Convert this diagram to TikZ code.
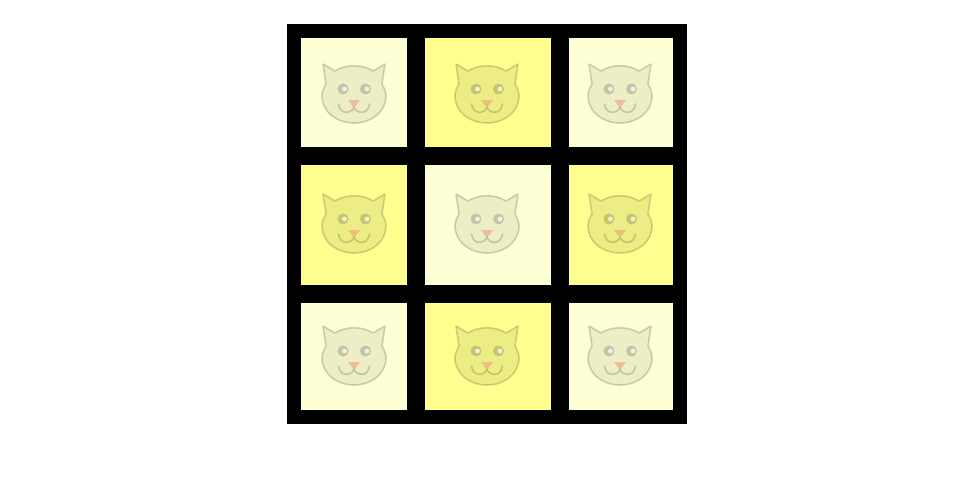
\documentclass[tikz,border=0pt]{standalone}
\usepackage{xcolor}
\definecolor{paleyellow}{HTML}{FFFFD6}
\definecolor{brightyellow}{HTML}{FFFF90}
\definecolor{catnose}{HTML}{F09070}
\begin{document}
\begin{tikzpicture}[
  x=1pt, y=-1pt,
  frame/.style={fill=black, inner sep=0pt, minimum size=400pt},
  cell/.style={inner sep=0pt, minimum width=#1pt},
  pale/.style={fill=paleyellow},
  bright/.style={fill=brightyellow},
  catline/.style={draw=black, line width=1.6pt, line join=round, opacity=0.17},
  cat/.pic={
    \fill[black, opacity=0.07] (-31,-30) -- (-19,-23) .. controls (-8,-30) and (8,-30) .. (19,-23) -- (31,-30)
      -- (28,-10) .. controls (31,-5) and (32,-1) .. (32,2) .. controls (32,18) and (17,29) .. (0,29)
      .. controls (-17,29) and (-32,18) .. (-32,2) .. controls (-32,-1) and (-31,-5) .. (-28,-10) -- cycle;
    \draw[catline] (-31,-30) -- (-19,-23) .. controls (-8,-30) and (8,-30) .. (19,-23) -- (31,-30)
      -- (28,-10) .. controls (31,-5) and (32,-1) .. (32,2) .. controls (32,18) and (17,29) .. (0,29)
      .. controls (-17,29) and (-32,18) .. (-32,2) .. controls (-32,-1) and (-31,-5) .. (-28,-10) -- cycle;
    \fill[black, opacity=0.17] (-11,-5) circle (5.5) (11.5,-5) circle (5.5);
    \fill[white, opacity=0.75] (-9.5,-5) circle (2.4) (13,-5) circle (2.4);
    \fill[catnose, opacity=0.5] (-6,6) -- (6,6) -- (0,14) -- cycle;
    \draw[catline, line cap=round] (-15.5,10) .. controls (-14,21) and (-3,20) .. (0,13.5) .. controls (3,20) and (14,21) .. (15.5,10);
  }
]
\useasboundingbox (0,0) rectangle (960,500);
\node[frame] (board) at (487,224) {};
% col/row centre, width, height, colour
\foreach \cx/\cy/\cw/\ch/\tone/\idx in {
  354/92.5/106/109/pale/1, 488/92.5/126/109/bright/2, 621/92.5/104/109/pale/3,
  354/225/106/120/bright/4, 488/225/126/120/pale/5, 621/225/104/120/bright/6,
  354/356.5/106/107/pale/7, 488/356.5/126/107/bright/8, 621/356.5/104/107/pale/9}
  \node[cell=\cw, minimum height=\ch pt, \tone] (tile\idx) at (\cx,\cy) {};
\foreach \cx/\cy in {354/94, 487/94, 620/94, 354/224, 487/224, 620/224, 354/356, 487/356, 620/356}
  \pic at (\cx,\cy) {cat};
\end{tikzpicture}
\end{document}
